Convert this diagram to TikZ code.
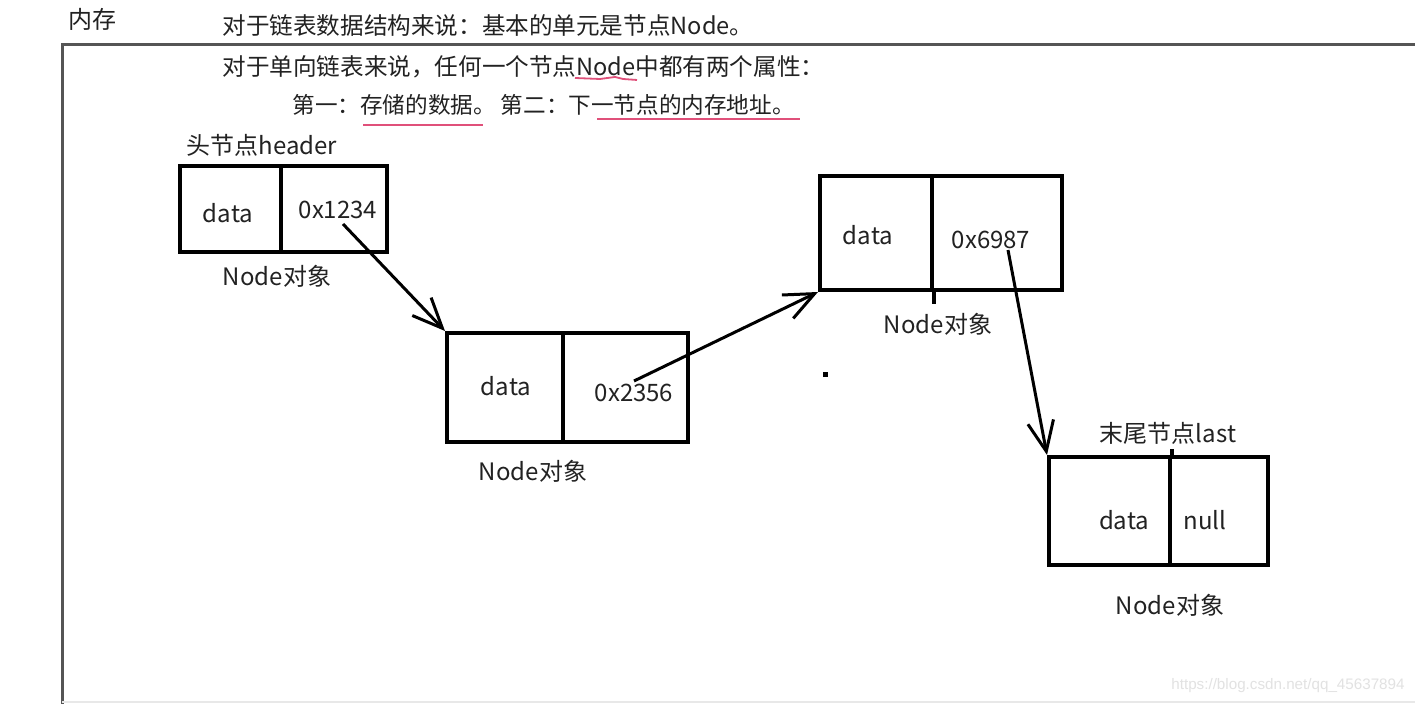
\documentclass[tikz,border=0pt]{standalone}
\usepackage{fontspec}
\setmainfont{Noto Sans CJK SC}
\newfontfamily\wmfont{Liberation Sans}
\usetikzlibrary{arrows.meta}
\definecolor{txt}{HTML}{222222}
\definecolor{frm}{HTML}{555555}
\definecolor{ul}{HTML}{E0507A}
\definecolor{wm}{HTML}{E2E2E2}
\begin{document}
\begin{tikzpicture}[x=0.5pt,y=-0.5pt,
  cell/.style={draw=black,line width=2pt,inner sep=0pt,minimum width=#1},
  lbl/.style={text=txt,font=\fontsize{12pt}{14pt}\selectfont,inner sep=0pt},
  para/.style={text=txt,font=\fontsize{11.8pt}{13pt}\selectfont,inner sep=0pt,anchor=west},
  link/.style={line width=1.5pt,-{Straight Barb[length=15pt,width=13pt,line width=1.5pt]}},
  squig/.style={ul,line width=0.9pt}]
\useasboundingbox (0,0) rectangle (1415,704);
\fill[white] (0,0) rectangle (1415,704);
% frame
\draw[frm,line width=1.5pt] (62,710) -- (62,45) -- (1420,45);
\draw[wm!80,line width=0.8pt] (62,702) -- (1420,702);
\node[lbl,anchor=west] (mem) at (68,19) {内存};
\node[para] (t1) at (222,26) {对于链表数据结构来说：基本的单元是节点Node。};
\node[para] (t2) at (222,67) {对于单向链表来说，任何一个节点Node中都有两个属性：};
\node[para,font=\fontsize{11.3pt}{13pt}\selectfont] (t3) at (292,105) {第一：存储的数据。 第二：下一节点的内存地址。};
\draw[squig] (575,78) -- (600,79) -- (615,77) -- (623,79) -- (637,80);
\draw[squig] (363,125) -- (483,125);
\draw[squig] (597,119) -- (800,119);
% header node
\node[cell=50.5pt,minimum height=43pt] (hd) at (230.5,209) {};
\node[cell=53pt,minimum height=43pt] (hp) at (334,209) {};
\node[lbl] (hdt) at (228,213) {data};
\node[lbl] (hpt) at (338,210) {0x1234};
\node[lbl] (hl) at (262,145) {头节点header};
\node[lbl] (hn) at (277,276) {Node对象};
% node 2
\node[cell=58pt,minimum height=54.5pt] (bd) at (505,387.5) {};
\node[cell=62.5pt,minimum height=54.5pt] (bp) at (625.5,387.5) {};
\node[lbl] (bdt) at (506,386) {data};
\node[lbl] (bpt) at (634,393) {0x2356};
\node[lbl] (bn) at (533,471) {Node对象};
% node 3
\node[cell=56pt,minimum height=57pt] (cd) at (876,233) {};
\node[cell=65pt,minimum height=57pt] (cp) at (997,233) {};
\draw[line width=2pt] (cd.south east) -- ++(0,12);
\node[lbl] (cdt) at (868,235) {data};
\node[lbl] (cpt) at (991,240) {0x6987};
\node[lbl] (cn) at (938,324) {Node对象};
% node 4
\node[cell=60.5pt,minimum height=54pt] (dd) at (1109.5,511) {};
\node[cell=49pt,minimum height=54pt] (dp) at (1219,511) {};
\draw[line width=2pt] (dd.north east) -- ++(0,-6);
\node[lbl] (ddt) at (1124,520) {data};
\node[lbl] (dpt) at (1205,520) {null};
\node[lbl] (dl) at (1168,433) {末尾节点last};
\node[lbl] (dn) at (1170,605) {Node对象};
% pointers
\coordinate (s1) at (343,224);
\coordinate (s2) at (634,381);
\coordinate (s3) at (1008,250);
\draw[link] (s1) -- (bd.north west);
\draw[link] (s2) -- (cd.south west);
\draw[link] (s3) -- (dd.north west);
% stray dot
\fill[black] (822.5,372.5) rectangle (827.5,377.5);
% watermark
\node[text=wm,font=\wmfont\fontsize{7.6pt}{9pt}\selectfont,anchor=east,inner sep=0pt] (wmk) at (1405,686) {https://blog.csdn.net/qq\_45637894};
\end{tikzpicture}
\end{document}
